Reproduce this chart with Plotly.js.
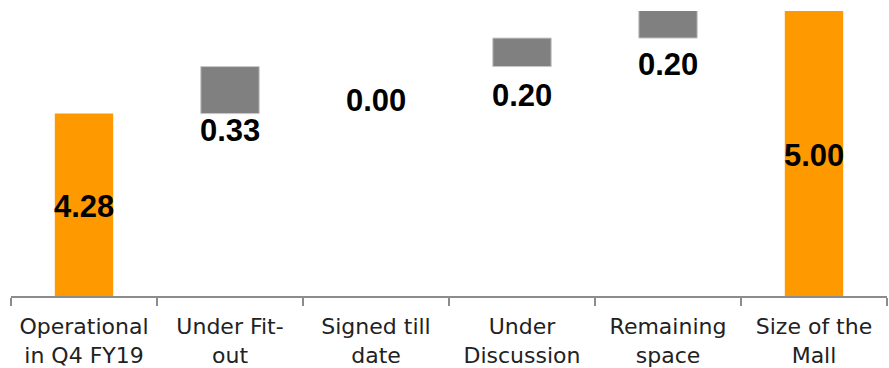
<!DOCTYPE html>
<html>
<head>
<meta charset="utf-8">
<script src="https://cdn.plot.ly/plotly-3.0.1.min.js"></script>
<style>html,body{margin:0;padding:0;background:#fff;}#chart{width:889px;height:368px;}</style>
</head>
<body>
<div id="chart"></div>
<script>
// Data
const categories = ["Operational<br>in Q4 FY19", "Under Fit-<br>out", "Signed till<br>date", "Under<br>Discussion", "Remaining<br>space", "Size of the<br>Mall"];
const values = [4.28, 0.33, 0.00, 0.20, 0.20, 5.00];
const measures = ["total", "relative", "relative", "relative", "relative", "total"];

const yMin = 3, yMax = 5;
const orange = "#FF9900", gray = "#808080";

// compute waterfall bases
const bases = [], colors = [], lineColors = [], lineWidths = [];
let running = 0;
values.forEach((v, i) => {
  if (measures[i] === "total") {
    bases.push(0); running = v; colors.push(orange); lineColors.push(orange); lineWidths.push(0);
  } else {
    bases.push(running); running += v; colors.push(gray); lineColors.push("#c8c8c8");
    lineWidths.push(v === 0 ? 0 : 1);
  }
});

// label offsets (px below bar bottom for floating bars)
const labelShift = [-2, -17, -34, -29, -26, -2];
const annotations = values.map((v, i) => {
  const total = measures[i] === "total";
  return {
    x: categories[i], xref: "x", yref: "y",
    y: total ? (yMin + v) / 2 : bases[i],
    yshift: labelShift[i],
    text: v.toFixed(2), showarrow: false, yanchor: "middle",
    font: {family: "Liberation Sans, Arial, sans-serif", size: 31, color: "#000", weight: "bold"}
  };
});

const trace = {
  type: "bar", x: categories, y: values, base: bases,
  marker: {color: colors, line: {color: lineColors, width: lineWidths}},
  width: 0.4, hoverinfo: "skip"
};

const layout = {
  width: 889, height: 368,
  margin: {l: 11, r: 2, t: 11, b: 72},
  paper_bgcolor: "#fff", plot_bgcolor: "#fff",
  showlegend: false,
  xaxis: {
    type: "category", showline: true, linecolor: "#8c8c8c", linewidth: 1.5,
    ticks: "outside", tickson: "boundaries", ticklen: 8, tickcolor: "#8c8c8c", tickwidth: 1.5,
    tickfont: {family: "DejaVu Sans, sans-serif", size: 22, color: "#222"},
    showgrid: false, zeroline: false, fixedrange: true, ticklabelstandoff: 10
  },
  yaxis: {range: [yMin, yMax], visible: false, showgrid: false, zeroline: false, fixedrange: true},
  annotations: annotations
};

Plotly.newPlot("chart", [trace], layout, {displayModeBar: false, staticPlot: true});
</script>
</body>
</html>
